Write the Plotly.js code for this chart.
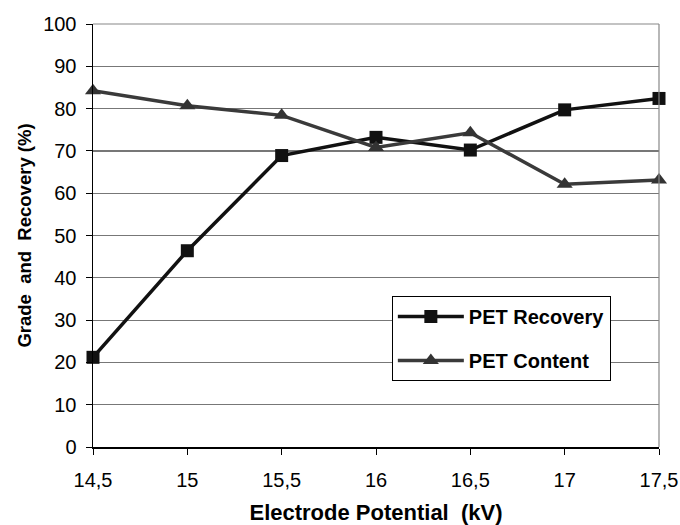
<!DOCTYPE html>
<html>
<head>
<meta charset="utf-8">
<script src="https://cdn.plot.ly/plotly-3.0.1.min.js"></script>
<style>html,body{margin:0;padding:0;background:#fff;}#chart{width:680px;height:525px;}</style>
</head>
<body>
<div id="chart"></div>
<script>
var potential = [14.5, 15, 15.5, 16, 16.5, 17, 17.5];
var petRecovery = [21.2, 46.4, 68.9, 73.2, 70.2, 79.7, 82.4];
var petContent = [84.2, 80.7, 78.4, 70.8, 74.3, 62.1, 63.1];
var seriesNames = ["PET Recovery", "PET Content"];

var traces = [
  {x: potential, y: petRecovery, name: seriesNames[0], legendgroup: 'g1', type: 'scatter', mode: 'lines+markers',
   line: {color: '#111111', width: 3.5}, marker: {symbol: 'square', size: 13, color: '#111111'}, cliponaxis: false},
  {x: potential, y: petContent, name: seriesNames[1], legendgroup: 'g2', type: 'scatter', mode: 'lines+markers',
   line: {color: '#3a3a3a', width: 3.5}, marker: {symbol: 'triangle-up', size: 14, color: '#333333'}, cliponaxis: false}
];

var layout = {
  width: 680, height: 525,
  margin: {l: 93, r: 21, t: 24, b: 78},
  separators: ', ',
  paper_bgcolor: '#fff', plot_bgcolor: '#fff',
  font: {family: 'Liberation Sans, Arial, sans-serif', size: 20, color: '#000'},
  showlegend: true,
  legend: {x: 0.528, y: 0.357, xanchor: 'left', yanchor: 'top', bgcolor: '#fff', bordercolor: '#000', borderwidth: 1,
           font: {size: 20, family: 'Liberation Sans, Arial, sans-serif', weight: 'bold'},
           tracegroupgap: 15, itemwidth: 66, traceorder: 'grouped'},
  xaxis: {
    range: [14.5, 17.5], dtick: 0.5, tick0: 14.5,
    showgrid: false, zeroline: false,
    showline: true, linecolor: '#000', linewidth: 1.5, mirror: false,
    ticks: 'outside', ticklen: 6, tickcolor: '#000', ticklabelstandoff: 8,
    tickfont: {size: 20},
    title: {text: 'Electrode Potential\u00a0\u00a0(kV)', font: {size: 22, weight: 'bold'}, standoff: 15}
  },
  yaxis: {
    range: [0, 100], dtick: 10,
    showgrid: true, gridcolor: '#777777', gridwidth: 1.2, zeroline: false,
    showline: true, linecolor: '#000', linewidth: 1.5,
    ticks: 'outside', ticklen: 6, tickcolor: '#000', ticklabelstandoff: 5,
    tickfont: {size: 20},
    title: {text: 'Grade\u00a0\u00a0and\u00a0\u00a0Recovery (%)', font: {size: 18.5, weight: 'bold'}, standoff: 6}
  },
  shapes: [
    {type: 'line', xref: 'paper', yref: 'paper', x0: 1, x1: 1, y0: 0, y1: 1, line: {color: '#888', width: 1.2}},
    {type: 'line', xref: 'paper', yref: 'paper', x0: 0, x1: 1, y0: 1, y1: 1, line: {color: '#888', width: 1.2}}
  ]
};

Plotly.newPlot('chart', traces, layout, {displayModeBar: false, staticPlot: true});
</script>
</body>
</html>
